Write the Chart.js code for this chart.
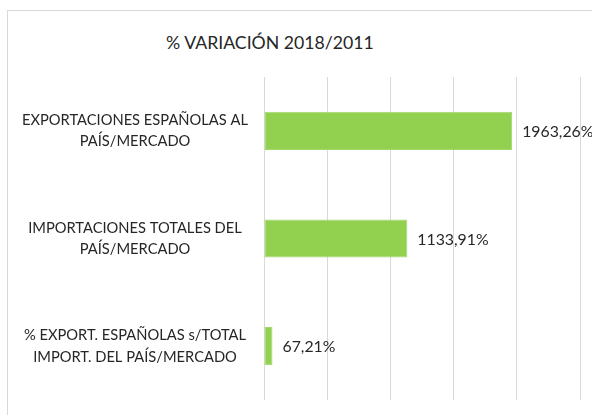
<!DOCTYPE html>
<html>
<head>
<meta charset="utf-8">
<script src="https://cdn.jsdelivr.net/npm/chart.js@4"></script>
<style>
    html, body { margin: 0; padding: 0; background: #fff; overflow: hidden; }
    #wrap { position: relative; width: 592px; height: 415px; overflow: hidden; }
    #frame { position: absolute; left: 7px; top: 10px; width: 700px; height: 500px; border: 1px solid #d9d9d9; }
    #title { position: absolute; left: 0; top: 32px; width: 540px; text-align: center;
             font-family: Lato, sans-serif; font-size: 17.7px; color: #262626; }
    canvas { position: absolute; left: 0; top: 0; }
</style>
</head>
<body>
<div id="wrap">
    <div id="frame"></div>
    <div id="title">% VARIACIÓN 2018/2011</div>
    <canvas id="myChart" width="592" height="415"></canvas>
</div>
<script>
// datos
const categorias = [
    ['EXPORTACIONES ESPAÑOLAS AL', 'PAÍS/MERCADO'],
    ['IMPORTACIONES TOTALES DEL', 'PAÍS/MERCADO'],
    ['% EXPORT. ESPAÑOLAS s/TOTAL', 'IMPORT. DEL PAÍS/MERCADO']
];
const variacion = [1963.26, 1133.91, 67.21];
const ejeMax = 2500;
const ejePaso = 500;

const formato = (v) => v.toFixed(2).replace('.', ',') + '%';

// etiquetas de datos al final de cada barra
const etiquetas = {
    id: 'etiquetas',
    afterDatasetsDraw(chart) {
        const ctx = chart.ctx;
        const meta = chart.getDatasetMeta(0);
        ctx.save();
        ctx.font = '15.8px Lato, sans-serif';
        ctx.fillStyle = '#262626';
        ctx.textAlign = 'left';
        ctx.textBaseline = 'middle';
        meta.data.forEach((bar, i) => {
            ctx.fillText(formato(variacion[i]), bar.x + 10, bar.y + 1);
        });
        ctx.restore();
    }
};

const data = {
    labels: categorias,
    datasets: [
        {
            label: '% VARIACIÓN 2018/2011',
            data: variacion,
            backgroundColor: '#92d050',
            borderColor: '#a4d86c',
            borderWidth: 1,
            borderSkipped: false,
            barPercentage: 0.355,
            categoryPercentage: 1
        }
    ]
};

const config = {
    type: 'bar',
    data: data,
    plugins: [etiquetas],
    options: {
        indexAxis: 'y',
        responsive: false,
        animation: false,
        layout: {
            padding: { top: 77, bottom: 15, right: 12, left: 0 }
        },
        plugins: {
            legend: { display: false },
            tooltip: { enabled: false },
            title: { display: false }
        },
        scales: {
            x: {
                min: 0,
                max: ejeMax,
                afterFit: (scale) => { scale.height = 0; },
                ticks: { display: false, stepSize: ejePaso },
                grid: { color: '#d9d9d9', lineWidth: 1, drawTicks: false },
                border: { display: false }
            },
            y: {
                afterFit: (scale) => {
                    scale.width = 264;
                    scale.paddingTop = 0;
                    scale.paddingBottom = 0;
                },
                grid: { display: false, drawTicks: false },
                border: { display: false },
                ticks: {
                    crossAlign: 'center',
                    padding: 16,
                    color: '#262626',
                    font: { family: 'Lato, sans-serif', size: 14.7, lineHeight: 1.45 }
                }
            }
        }
    }
};

const myChart = new Chart(document.getElementById('myChart'), config);
</script>
</body>
</html>
